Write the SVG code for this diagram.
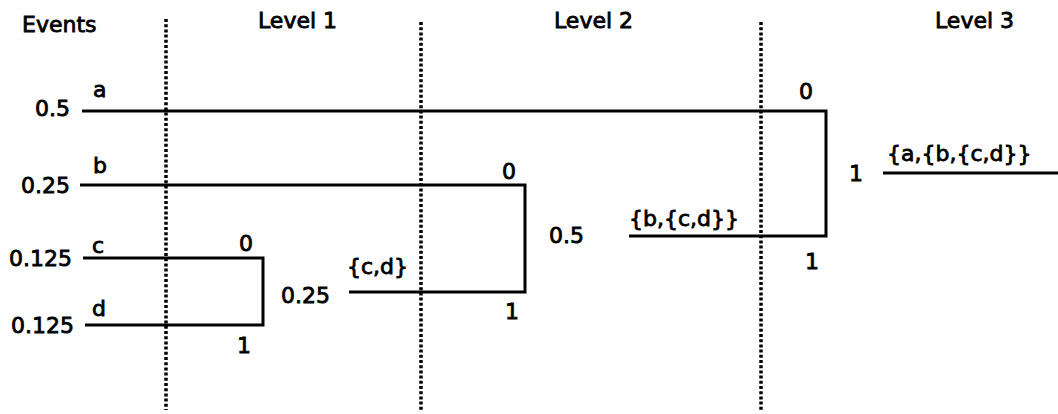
<svg xmlns="http://www.w3.org/2000/svg" width="1058" height="414" viewBox="0 0 1058 414">
  <style>
    text { font-family: "DejaVu Sans", Verdana, sans-serif; font-size: 22px; fill: #000; stroke: #000; stroke-width: 0.8; }
    .edge { fill: none; stroke: #000; stroke-width: 3; stroke-linejoin: miter; stroke-linecap: butt; }
    .divider { fill: none; stroke: #000; stroke-width: 3.5; stroke-dasharray: 3 2.2; }
  </style>
  <rect width="1058" height="414" fill="#fff"/>

  <!-- level dividers -->
  <g id="dividers">
    <line class="divider" x1="166" y1="19" x2="166" y2="410"/>
    <line class="divider" x1="421" y1="22" x2="421" y2="412"/>
    <line class="divider" x1="761" y1="22" x2="761" y2="412"/>
  </g>

  <!-- column headings -->
  <g id="headings">
    <text x="22" y="32">Events</text>
    <text x="258" y="28">Level 1</text>
    <text x="554" y="28">Level 2</text>
    <text x="935" y="28">Level 3</text>
  </g>

  <!-- tree branches -->
  <g id="connectors">
    <polyline class="edge" points="82,111 826,111 826,236 629,236"/>
    <polyline class="edge" points="80,185 525,185 525,292 349,292"/>
    <polyline class="edge" points="83,258 263,258 263,325 85,325"/>
    <line class="edge" x1="883" y1="173" x2="1058" y2="173"/>
  </g>

  <!-- leaf events -->
  <g id="event-a">
    <text x="35" y="116">0.5</text>
    <text x="93" y="97">a</text>
  </g>
  <g id="event-b">
    <text x="21" y="193">0.25</text>
    <text x="93" y="173">b</text>
  </g>
  <g id="event-c">
    <text x="9" y="266">0.125</text>
    <text x="92" y="253">c</text>
  </g>
  <g id="event-d">
    <text x="11" y="333">0.125</text>
    <text x="92" y="316">d</text>
  </g>

  <!-- level 1 merge: c + d -->
  <g id="node-cd">
    <text x="239" y="251">0</text>
    <text x="237" y="353">1</text>
    <text x="281" y="303">0.25</text>
    <text x="347" y="274">{c,d}</text>
  </g>

  <!-- level 2 merge: b + {c,d} -->
  <g id="node-bcd">
    <text x="502" y="179">0</text>
    <text x="505" y="319">1</text>
    <text x="549" y="243">0.5</text>
    <text x="629" y="226">{b,{c,d}}</text>
  </g>

  <!-- level 3 merge: a + {b,{c,d}} -->
  <g id="node-abcd">
    <text x="799" y="99">0</text>
    <text x="805" y="269">1</text>
    <text x="849" y="181">1</text>
    <text x="887" y="161">{a,{b,{c,d}}</text>
  </g>
</svg>
